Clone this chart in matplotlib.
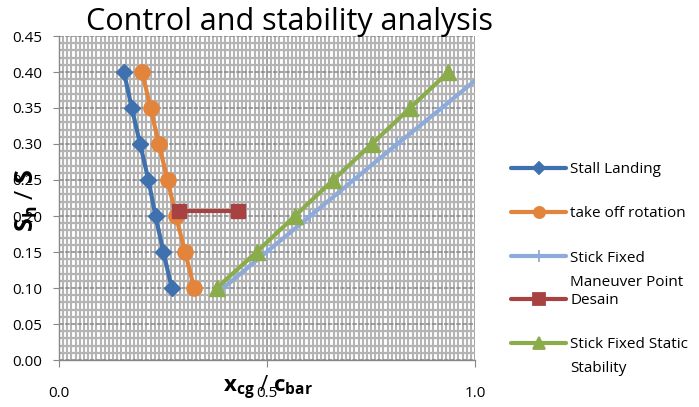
import matplotlib
matplotlib.use("Agg")
import matplotlib.pyplot as plt
from matplotlib.lines import Line2D
from matplotlib.ticker import MultipleLocator, FormatStrFormatter

plt.rcParams['font.family'] = ['Open Sans', 'DejaVu Sans']
plt.rcParams['mathtext.fontset'] = 'custom'
plt.rcParams['mathtext.rm'] = 'Open Sans'
plt.rcParams['mathtext.bf'] = 'Open Sans:bold'
plt.rcParams['mathtext.it'] = 'Open Sans:italic'

# Tail-volume ratio levels shared by the curves
sh_s = [0.40, 0.35, 0.30, 0.25, 0.20, 0.15, 0.10]

stall_landing_x = [0.156, 0.175, 0.195, 0.215, 0.232, 0.251, 0.271]
takeoff_rotation_x = [0.200, 0.220, 0.240, 0.261, 0.281, 0.303, 0.325]
maneuver_point_x = [1.025, 0.920, 0.813, 0.708, 0.604, 0.499, 0.395]
static_stability_x = [0.936, 0.844, 0.752, 0.659, 0.567, 0.475, 0.379]

design_x = [0.289, 0.431]
design_y = [0.207, 0.207]

series_names = ["Stall Landing", "take off rotation",
                "Stick Fixed\nManeuver Point", "Desain",
                "Stick Fixed Static\nStability"]

c_blue = '#3f71ae'
c_orange = '#e3843c'
c_light = '#8eaad8'
c_red = '#a84242'
c_green = '#8bac4a'

fig = plt.figure(figsize=(6.99, 4.07), dpi=100)
ax = fig.add_axes([59/699, 1-360/407, 416/699, 324/407])

ax.set_xlim(0, 1.0)
ax.set_ylim(0, 0.45)

# Grid: dense minor lines, dashed major horizontals, solid major verticals
ax.xaxis.set_major_locator(MultipleLocator(0.5))
ax.xaxis.set_minor_locator(MultipleLocator(0.01))
ax.yaxis.set_major_locator(MultipleLocator(0.05))
ax.yaxis.set_minor_locator(MultipleLocator(0.01))
ax.xaxis.set_major_formatter(FormatStrFormatter('%.1f'))
ax.yaxis.set_major_formatter(FormatStrFormatter('%.2f'))
ax.grid(which='minor', axis='x', color='#b4b4b4', lw=1.5)
ax.grid(which='minor', axis='y', color='#b4b4b4', lw=1.6)
ax.grid(which='major', axis='y', color='#888888', lw=1.1, linestyle=(0, (3, 1)))
ax.grid(which='major', axis='x', color='#888888', lw=1.1)
ax.set_axisbelow(True)

for s in ['top', 'right']:
    ax.spines[s].set_visible(False)
for s in ['left', 'bottom']:
    ax.spines[s].set_color('#888888')
    ax.spines[s].set_linewidth(1.0)

ax.tick_params(axis='both', which='minor', length=0)
ax.tick_params(axis='y', which='major', length=4, color='#888888', pad=8,
               labelsize=11)
ax.tick_params(axis='x', which='major', length=5, color='#888888', pad=14,
               labelsize=11)

lw = 3.0
ax.plot(stall_landing_x, sh_s, color=c_blue, lw=lw, marker='D', ms=8,
        zorder=3)
ax.plot(takeoff_rotation_x, sh_s, color=c_orange, lw=lw, marker='o', ms=11,
        zorder=3)
ax.plot(maneuver_point_x, sh_s, color=c_light, lw=lw, marker='+', ms=10,
        mew=1.3, zorder=3)
ax.plot(design_x, design_y, color=c_red, lw=lw, marker='s', ms=10, zorder=4)
ax.plot(static_stability_x, sh_s, color=c_green, lw=lw, marker='^', ms=11,
        zorder=4)

fig.text(290/699, 1-22/407, "Control and stability analysis", fontsize=22,
         ha='center', va='center')

fig.text(268/699, 1-388/407, r'$\mathbf{x_{cg}}$ / $\mathbf{c_{bar}}$',
         fontsize=16, ha='center', va='center')
fig.text(27/699, 1-200/407, r'$\mathbf{S_h}$ / $\mathbf{S}$', fontsize=18,
         rotation=90, ha='center', va='center')

# Legend entries drawn at even spacing on the right; wrapped names continue
# on the following line below the marker row
legend_styles = [(c_blue, 'D', 6), (c_orange, 'o', 8), (c_light, '+', 8),
                 (c_red, 's', 8), (c_green, '^', 8)]
legend_y = [168, 212, 256, 299, 343]
line_step = 24
for (col, mk, ms), name, py in zip(legend_styles, series_names, legend_y):
    yf = 1 - py/407
    fig.add_artist(Line2D([511/699, 566/699], [yf, yf], color=col, lw=3,
                          solid_capstyle='round'))
    fig.add_artist(Line2D([538.5/699], [yf], color=col, marker=mk, ms=ms,
                          mew=1.3, lw=0))
    for i, part in enumerate(name.split('\n')):
        fig.text(570/699, 1 - (py + 5.5 + i*line_step)/407, part,
                 fontsize=11, ha='left', va='baseline')

fig.savefig('out.png', dpi=100)
